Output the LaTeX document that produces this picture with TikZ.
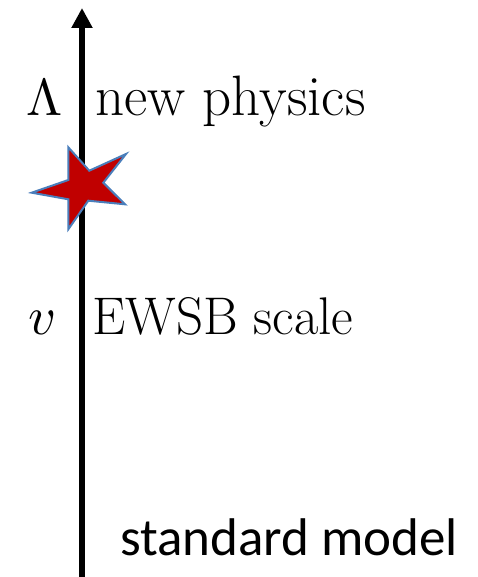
\documentclass[tikz,border=0pt]{standalone}
\usepackage{graphicx}
\usepackage{fontspec}
\newfontfamily\calibri{Carlito}
\usetikzlibrary{arrows.meta}
\definecolor{starred}{HTML}{C00000}
\definecolor{starblue}{HTML}{4A7EBB}
\tikzset{
  serif label/.style={anchor=base west, inner sep=0pt, font=\fontsize{#1}{60}\selectfont},
  math label/.style={anchor=base west, inner sep=0pt},
  sans label/.style={anchor=base west, inner sep=0pt, font=\calibri\fontsize{53}{60}\selectfont},
  axis/.style={line width=5.5pt, -{Triangle[width=20pt,length=20pt]}},
}
\begin{document}
\begin{tikzpicture}[x=1pt,y=-1pt]
\useasboundingbox (0,0) rectangle (477,577);
\coordinate (bottom) at (82,577);
\coordinate (top) at (82,8);
\draw[axis] (bottom) -- (top);
\draw[fill=starred, draw=starblue, line width=2pt, line join=miter]
  (68.3,147.3) -- (89.3,170.7) -- (126,154) -- (103.3,182.7) -- (125,204.3)
  -- (88.3,200.7) -- (68.3,229.3) -- (68.3,199.3) -- (31.7,192.7) -- (68.3,180) -- cycle;
\node[math label] (lam) at (26,116) {\scalebox{5.2}{$\Lambda$}};
\node[serif label=57] (np) at (95,116) {new physics};
\node[math label] (v) at (28,334) {\scalebox{5.4}{$v$}};
\node[serif label=53] (ewsb) at (92,334) {EWSB scale};
\node[sans label] (sm) at (120,555) {standard model};
\end{tikzpicture}
\end{document}
